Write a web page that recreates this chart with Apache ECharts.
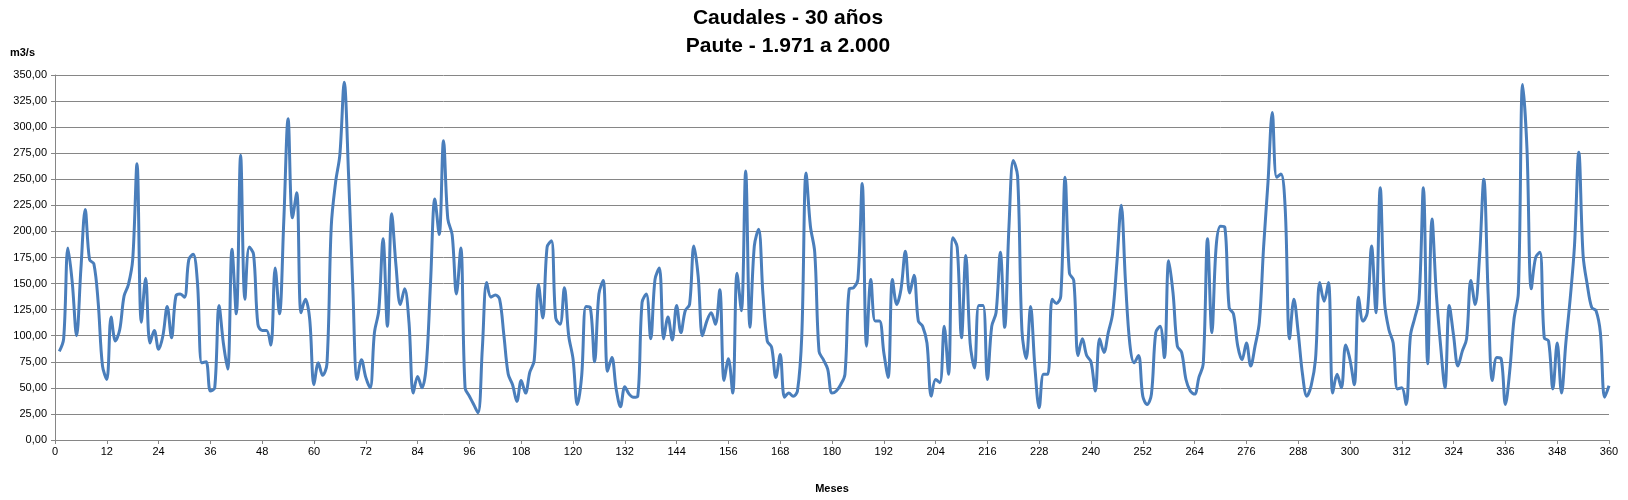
<!DOCTYPE html>
<html>
<head>
<meta charset="utf-8">
<script src="https://cdn.jsdelivr.net/npm/echarts@6/dist/echarts.min.js"></script>
<style>
html,body{margin:0;padding:0;background:#fff;}
#chart{width:1628px;height:500px;}
</style>
</head>
<body>
<div id="chart"></div>
<script>
// Months 1..360
const months = Array.from({length: 360}, (_, i) => i + 1);
// Caudales (m3/s)
const caudales = [
  85, 97, 184, 151, 100, 164, 221, 173, 169, 132,
  71, 58, 118, 95, 106, 138, 149, 173, 265, 113,
  155, 93, 105, 87, 100, 128, 98, 138, 140, 137,
  173, 178, 151, 74, 75, 47, 50, 129, 93, 68,
  183, 121, 273, 135, 185, 178, 111, 105, 105, 91,
  165, 121, 210, 308, 213, 237, 122, 135, 116, 53,
  74, 62, 73, 205, 247, 274, 343, 255, 145, 58,
  77, 60, 50, 103, 124, 193, 109, 217, 167, 130,
  145, 113, 45, 61, 50, 71, 151, 231, 197, 287,
  212, 197, 140, 184, 50, 42, 34, 26, 88, 151,
  137, 139, 135, 100, 63, 53, 37, 57, 45, 65,
  76, 149, 117, 185, 191, 117, 111, 146, 100, 78,
  34, 61, 128, 127, 75, 140, 153, 66, 79, 49,
  32, 51, 44, 41, 42, 132, 140, 97, 154, 165,
  97, 118, 96, 129, 103, 124, 130, 186, 157, 100,
  114, 122, 111, 144, 57, 78, 45, 160, 124, 258,
  108, 186, 202, 140, 95, 89, 60, 82, 41, 45,
  42, 47, 100, 256, 205, 180, 85, 77, 68, 45,
  47, 53, 63, 145, 146, 154, 246, 90, 154, 114,
  114, 84, 60, 154, 130, 145, 181, 141, 158, 114,
  109, 93, 42, 58, 55, 109, 63, 194, 185, 98,
  177, 93, 69, 129, 129, 58, 109, 122, 180, 108,
  205, 268, 253, 105, 78, 128, 70, 31, 63, 63,
  135, 131, 138, 252, 160, 153, 81, 97, 81, 75,
  47, 97, 84, 103, 121, 170, 225, 151, 92, 74,
  81, 42, 34, 44, 103, 109, 79, 172, 141, 90,
  84, 58, 47, 44, 60, 73, 193, 103, 186, 205,
  204, 127, 121, 90, 77, 93, 71, 90, 113, 186,
  247, 314, 252, 255, 221, 97, 135, 103, 63, 42,
  52, 77, 151, 133, 151, 45, 63, 50, 91, 77,
  53, 137, 114, 122, 186, 122, 242, 132, 106, 93,
  49, 50, 34, 100, 117, 135, 242, 73, 212, 140,
  90, 50, 129, 100, 71, 85, 97, 153, 130, 175,
  250, 140, 57, 79, 78, 34, 66, 116, 141, 341,
  279, 145, 175, 180, 98, 95, 49, 93, 45, 93,
  135, 186, 276, 177, 148, 127, 124, 103, 41, 52
];
const titleLines = ['Caudales - 30 años', 'Paute - 1.971 a 2.000'];
const yAxisName = 'm3/s';
const xAxisName = 'Meses';

const FONT = 'Liberation Sans';
const chart = echarts.init(document.getElementById('chart'), null, {renderer: 'canvas'});
chart.setOption({
  animation: false,
  backgroundColor: '#ffffff',
  title: {
    text: titleLines.join('\n'),
    left: 783,
    top: -1,
    textAlign: 'center',
    textStyle: {fontFamily: FONT, fontWeight: 'bold', fontSize: 21, lineHeight: 28, color: '#000'}
  },
  grid: {left: 55, right: 19, top: 75, bottom: 60, containLabel: false},
  xAxis: {
    type: 'value', min: 0, max: 360, interval: 12,
    name: xAxisName, nameLocation: 'middle', nameGap: 43,
    nameTextStyle: {fontFamily: FONT, fontWeight: 'bold', fontSize: 11, color: '#000'},
    axisLine: {show: true, lineStyle: {color: '#868686', width: 1}},
    axisTick: {show: true, length: 4, lineStyle: {color: '#868686'}},
    axisLabel: {fontFamily: FONT, fontSize: 11, color: '#000', margin: 6},
    splitLine: {show: false}
  },
  yAxis: {
    type: 'value', min: 0, max: 350, interval: 25,
    name: yAxisName, nameLocation: 'end', nameGap: 17,
    nameTextStyle: {fontFamily: FONT, fontWeight: 'bold', fontSize: 11, color: '#000', align: 'right', padding: [0, 20, 0, 0]},
    axisLine: {show: true, lineStyle: {color: '#868686', width: 1}},
    axisTick: {show: true, length: 4, lineStyle: {color: '#868686'}},
    axisLabel: {fontFamily: FONT, fontSize: 11, color: '#000', margin: 8,
      formatter: v => v.toFixed(2).replace('.', ',')},
    splitLine: {show: true, lineStyle: {color: '#868686', width: 1}}
  },
  series: [{
    type: 'line',
    data: months.map((m, i) => [m, caudales[i]]),
    smooth: 0.35,
    showSymbol: false,
    lineStyle: {color: '#4a7ebb', width: 3},
    itemStyle: {color: '#4a7ebb'}
  }]
});
</script>
</body>
</html>
